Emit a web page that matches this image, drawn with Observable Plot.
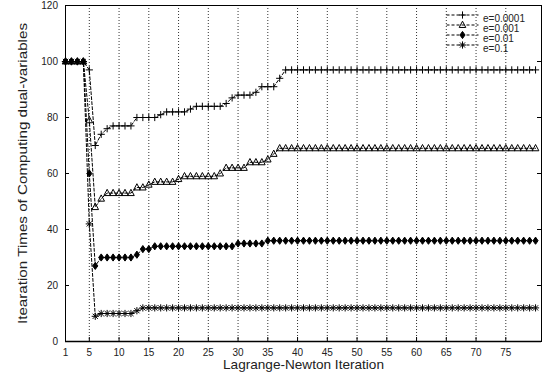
<!DOCTYPE html>
<html>
<head>
<meta charset="utf-8">
<script src="https://cdn.jsdelivr.net/npm/d3@7"></script>
<script src="https://cdn.jsdelivr.net/npm/@observablehq/plot@0.6"></script>
<style>
  html, body { margin: 0; padding: 0; background: #fff; }
</style>
</head>
<body>
<div id="chart"></div>
<script>
// ---- data ----
const iterations = [
  1,2,3,4,5,6,7,8,9,10,
  11,12,13,14,15,16,17,18,19,20,
  21,22,23,24,25,26,27,28,29,30,
  31,32,33,34,35,36,37,38,39,40,
  41,42,43,44,45,46,47,48,49,50,
  51,52,53,54,55,56,57,58,59,60,
  61,62,63,64,65,66,67,68,69,70,
  71,72,73,74,75,76,77,78,79,80
];
const seriesNames = ["e=0.0001", "e=0.001", "e=0.01", "e=0.1"];

const e0001 = [
  100,100,100,100,97,70,74,76,77,77,
  77,77,80,80,80,80,81,82,82,82,
  82,83,84,84,84,84,84,85,87,88,
  88,88,89,91,91,91,94,97,97,97,
  97,97,97,97,97,97,97,97,97,97,
  97,97,97,97,97,97,97,97,97,97,
  97,97,97,97,97,97,97,97,97,97,
  97,97,97,97,97,97,97,97,97,97
];
const e001 = [
  100,100,100,100,79,48,51,53,53,53,
  53,53,55,55,56,57,57,57,57,58,
  59,59,59,59,59,59,60,62,62,62,
  62,64,64,64,65,67,69,69,69,69,
  69,69,69,69,69,69,69,69,69,69,
  69,69,69,69,69,69,69,69,69,69,
  69,69,69,69,69,69,69,69,69,69,
  69,69,69,69,69,69,69,69,69,69
];
const e01 = [
  100,100,100,100,60,27,30,30,30,30,
  30,30,31,33,33,34,34,34,34,34,
  34,34,34,34,34,34,34,34,34,35,
  35,35,35,35,36,36,36,36,36,36,
  36,36,36,36,36,36,36,36,36,36,
  36,36,36,36,36,36,36,36,36,36,
  36,36,36,36,36,36,36,36,36,36,
  36,36,36,36,36,36,36,36,36,36
];
const e1 = [
  100,100,100,100,42,9,10,10,10,10,
  10,10,11,12,12,12,12,12,12,12,
  12,12,12,12,12,12,12,12,12,12,
  12,12,12,12,12,12,12,12,12,12,
  12,12,12,12,12,12,12,12,12,12,
  12,12,12,12,12,12,12,12,12,12,
  12,12,12,12,12,12,12,12,12,12,
  12,12,12,12,12,12,12,12,12,12
];
const xTickLabels = [1,5,10,15,20,25,30,35,40,45,50,55,60,65,70,75];
const yTickLabels = [0,20,40,60,80,100,120];
const gridX = [5,10,15,20,25,30,35,40,45,50,55,60,65,70,75];
const xLabel = "Lagrange-Newton Iteration";
const yLabel = "Itearation Times of Computing dual-variables";

// ---- tidy table built from the arrays ----
const seriesValues = [e0001, e001, e01, e1];
const table = seriesNames.flatMap((s, k) =>
  iterations.map((x, i) => ({x, y: seriesValues[k][i], s}))
);

// ---- gnuplot-like point symbols (size = r*r*PI) ----
const R = (size) => Math.sqrt(size / Math.PI);
const symPlus = {draw(c, size) { const r = R(size);
  c.moveTo(-r, 0); c.lineTo(r, 0); c.moveTo(0, -r); c.lineTo(0, r); }};
const symTri = {draw(c, size) { const r = R(size);
  c.moveTo(0, -1.15 * r); c.lineTo(r, 0.75 * r); c.lineTo(-r, 0.75 * r); c.closePath(); }};
const symDiamond = {draw(c, size) { const r = R(size);
  c.moveTo(0, -1.2 * r); c.lineTo(0.85 * r, 0); c.lineTo(0, 1.2 * r); c.lineTo(-0.85 * r, 0); c.closePath(); }};
const symStar = {draw(c, size) { const r = R(size); const d = 0.72 * r;
  c.moveTo(-r, 0); c.lineTo(r, 0); c.moveTo(0, -r); c.lineTo(0, r);
  c.moveTo(-d, -d); c.lineTo(d, d); c.moveTo(-d, d); c.lineTo(d, -d); }};
const symSeg = {draw(c, size) { const r = R(size); c.moveTo(-r, 0); c.lineTo(r, 0); }};

const markerStyle = [
  {symbol: symPlus, r: 3.6, fill: "none", stroke: "black"},
  {symbol: symTri, r: 3.3, fill: "none", stroke: "black"},
  {symbol: symDiamond, r: 3.0, fill: "black", stroke: "black"},
  {symbol: symStar, r: 3.6, fill: "none", stroke: "black"}
];

const textColor = "#222";

const chart = Plot.plot({
  width: 542,
  height: 383,
  marginLeft: 65,
  marginRight: 1,
  marginTop: 5,
  marginBottom: 42,
  style: {fontFamily: "'Liberation Sans', Arial, Helvetica, sans-serif", fontSize: "10px", background: "#fff", color: textColor},
  x: {domain: [1, 81]},
  y: {domain: [0, 120]},
  marks: [
    // vertical dotted grid
    Plot.ruleX(gridX, {x: d => d, stroke: "#333", strokeWidth: 1, strokeDasharray: "1,2"}),
    // axes (labels only)
    Plot.axisX(xTickLabels, {tickSize: 0, tickPadding: 7, label: null, fontSize: 10, fill: textColor}),
    Plot.axisY(yTickLabels, {tickSize: 0, tickPadding: 7.5, label: null, fontSize: 10, fill: textColor}),
    // inward tick marks (bottom, left, right)
    Plot.tickX(xTickLabels, {x: d => d, insetTop: 332, stroke: "black"}),
    Plot.tickY(yTickLabels, {y: d => d, insetRight: 472, stroke: "black"}),
    Plot.tickY(yTickLabels, {y: d => d, insetLeft: 472, stroke: "black"}),
    // series lines
    Plot.line(table, {x: "x", y: "y", z: "s", stroke: "black", strokeWidth: 1, strokeDasharray: "3,2"}),
    // series markers
    ...seriesNames.map((name, k) =>
      Plot.dot(table.filter(d => d.s === name), {x: "x", y: "y", strokeWidth: 1, ...markerStyle[k]})
    ),
    // frame
    Plot.frame({stroke: "black", strokeWidth: 1}),
    Plot.ruleY([0], {y: d => d, stroke: "black", strokeWidth: 1.6}),
    // axis titles
    Plot.text([xLabel], {text: d => d, frameAnchor: "bottom", dy: 27, fontSize: 13.6, fill: textColor}),
    Plot.text([yLabel], {text: d => d, frameAnchor: "left", textAnchor: "middle", dx: -43, rotate: -90, fontSize: 13.6, fill: textColor}),
    // legend
    ...seriesNames.flatMap((name, k) => [
      Plot.dot([name], {frameAnchor: "top-left", dx: 397, dy: 9.5 + 10 * k, symbol: symSeg, r: 16,
                        fill: "none", stroke: "black", strokeWidth: 1, strokeDasharray: "3,2"}),
      Plot.dot([name], {frameAnchor: "top-left", dx: 397, dy: 9.5 + 10 * k, strokeWidth: 1, ...markerStyle[k]}),
      Plot.text([name], {text: d => d, frameAnchor: "top-left", dx: 417.5, dy: 9.5 + 10 * k,
                         textAnchor: "start", fontSize: 10, fill: textColor})
    ])
  ]
});
// the reference's y title is drawn stretched along its run: fit it to the same length
d3.select(chart).selectAll("text")
  .filter(function () { return this.textContent === yLabel; })
  .attr("textLength", 301)
  .attr("lengthAdjust", "spacingAndGlyphs");
document.getElementById("chart").appendChild(chart);
</script>
</body>
</html>
